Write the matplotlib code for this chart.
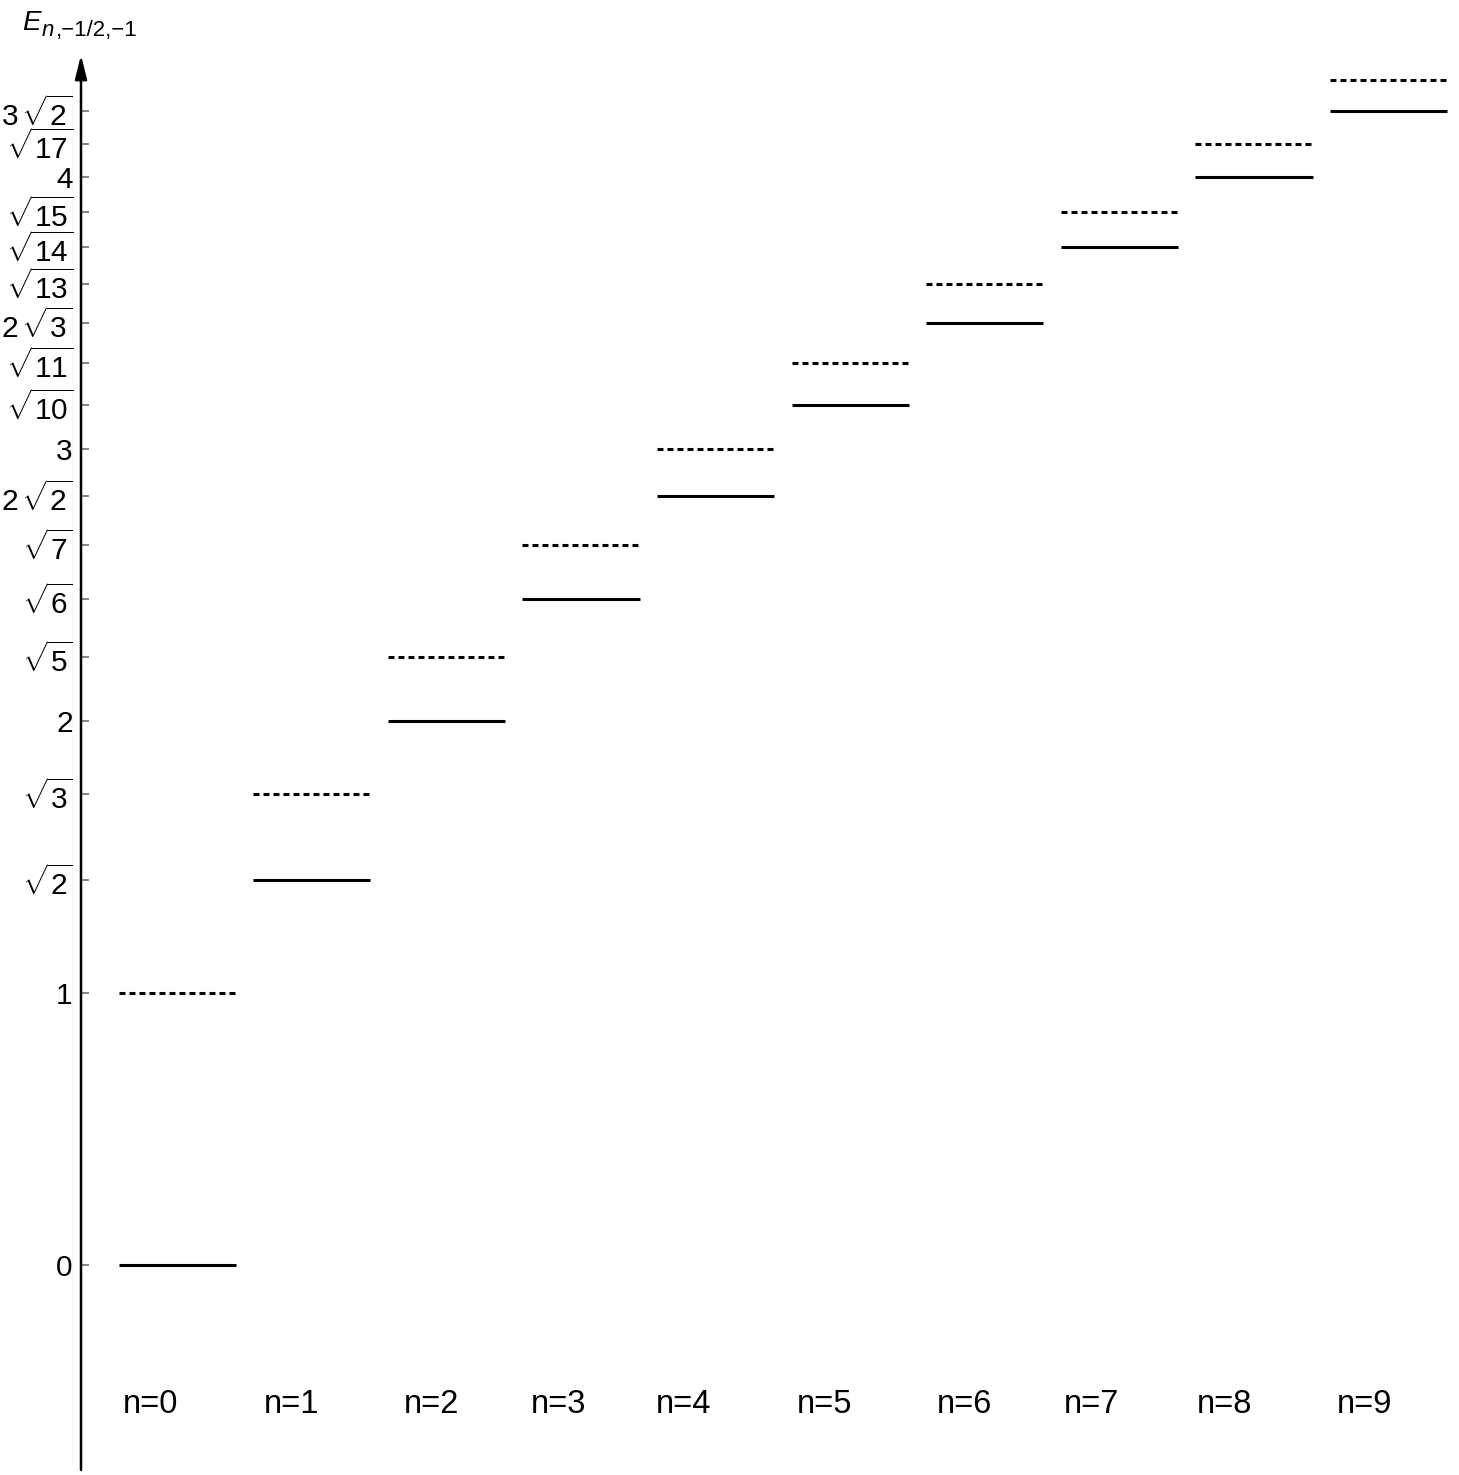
"""Energy levels E_{n,-1/2,-1} for n = 0..9."""
import matplotlib
matplotlib.use("Agg")
import matplotlib.pyplot as plt

plt.rcParams["font.family"] = ["Liberation Sans", "DejaVu Sans"]
plt.rcParams["mathtext.fontset"] = "custom"
plt.rcParams["mathtext.rm"] = "Liberation Sans"
plt.rcParams["mathtext.it"] = "Liberation Sans:italic"
plt.rcParams["mathtext.bf"] = "Liberation Sans:bold"
plt.rcParams["lines.scale_dashes"] = False

# levels
n_values = [0, 1, 2, 3, 4, 5, 6, 7, 8, 9]
solid_levels = [0.0, 1.4142, 2.0, 2.4495, 2.8284, 3.1623, 3.4641, 3.7417, 4.0, 4.2426]
dashed_levels = [1.0, 1.7321, 2.2361, 2.6458, 3.0, 3.3166, 3.6056, 3.8730, 4.1231, 4.3589]

# y ticks
tick_values = [0.0, 1.0, 1.4142, 1.7321, 2.0, 2.2361, 2.4495, 2.6458, 2.8284, 3.0,
               3.1623, 3.3166, 3.4641, 3.6056, 3.7417, 3.8730, 4.0, 4.1231, 4.2426]
tick_labels = ["0", "1", r"$\sqrt{2}$", r"$\sqrt{3}$", "2", r"$\sqrt{5}$", r"$\sqrt{6}$",
               r"$\sqrt{7}$", r"$2\,\sqrt{2}$", "3", r"$\sqrt{10}$", r"$\sqrt{11}$",
               r"$2\,\sqrt{3}$", r"$\sqrt{13}$", r"$\sqrt{14}$", r"$\sqrt{15}$", "4",
               r"$\sqrt{17}$", r"$3\,\sqrt{2}$"]

# layout
seg_offset = 0.28
seg_width = 0.87
label_x = [0.31, 1.355, 2.40, 3.34, 4.27, 5.32, 6.36, 7.30, 8.29, 9.33]
label_y = -0.544
y_lo, y_hi = -0.754, 4.449

W, H = 1459, 1475
fig = plt.figure(figsize=(W / 100, H / 100), dpi=100)
ax = fig.add_axes([81 / W, 5 / H, (W - 81) / W, 1415 / H])
ax.set_xlim(0, (W - 81) / 134.6)
ax.set_ylim(y_lo, y_hi)

for n, ys, yd in zip(n_values, solid_levels, dashed_levels):
    x0 = n + seg_offset
    x1 = x0 + seg_width
    ax.plot([x0, x1], [ys, ys], color="black", lw=2.2, solid_capstyle="butt")
    ax.plot([x0, x1], [yd, yd], color="black", lw=2.2, dashes=(4.3, 2.9),
            dash_capstyle="butt")

for x, n in zip(label_x, n_values):
    ax.text(x, label_y, f"n={n}", ha="left", va="baseline", fontsize=23.5)

for s in ax.spines.values():
    s.set_visible(False)
ax.set_xticks([])
ax.set_yticks(tick_values)
ax.set_yticklabels(tick_labels)
ax.tick_params(axis="y", direction="in", length=6, width=1.3, color="#777777",
               pad=6, labelsize=21.5)

ax.annotate("", xy=(0, y_hi), xytext=(0, y_lo), xycoords=("axes fraction", "data"),
            arrowprops=dict(arrowstyle="-|>,head_length=0.8,head_width=0.2",
                            mutation_scale=18, lw=1.8, color="black",
                            shrinkA=0, shrinkB=0),
            annotation_clip=False)

# axis title: E with a large subscript
fig.text(22 / W, 1 - 30 / H, "E", fontsize=20, style="italic",
         ha="left", va="baseline")
fig.text(42 / W, 1 - 36 / H, "n", fontsize=16, style="italic",
         ha="left", va="baseline")
fig.text(56 / W, 1 - 36 / H, ",\u22121/2,\u22121", fontsize=16,
         ha="left", va="baseline")

fig.savefig("out.png", dpi=100, facecolor="white")
